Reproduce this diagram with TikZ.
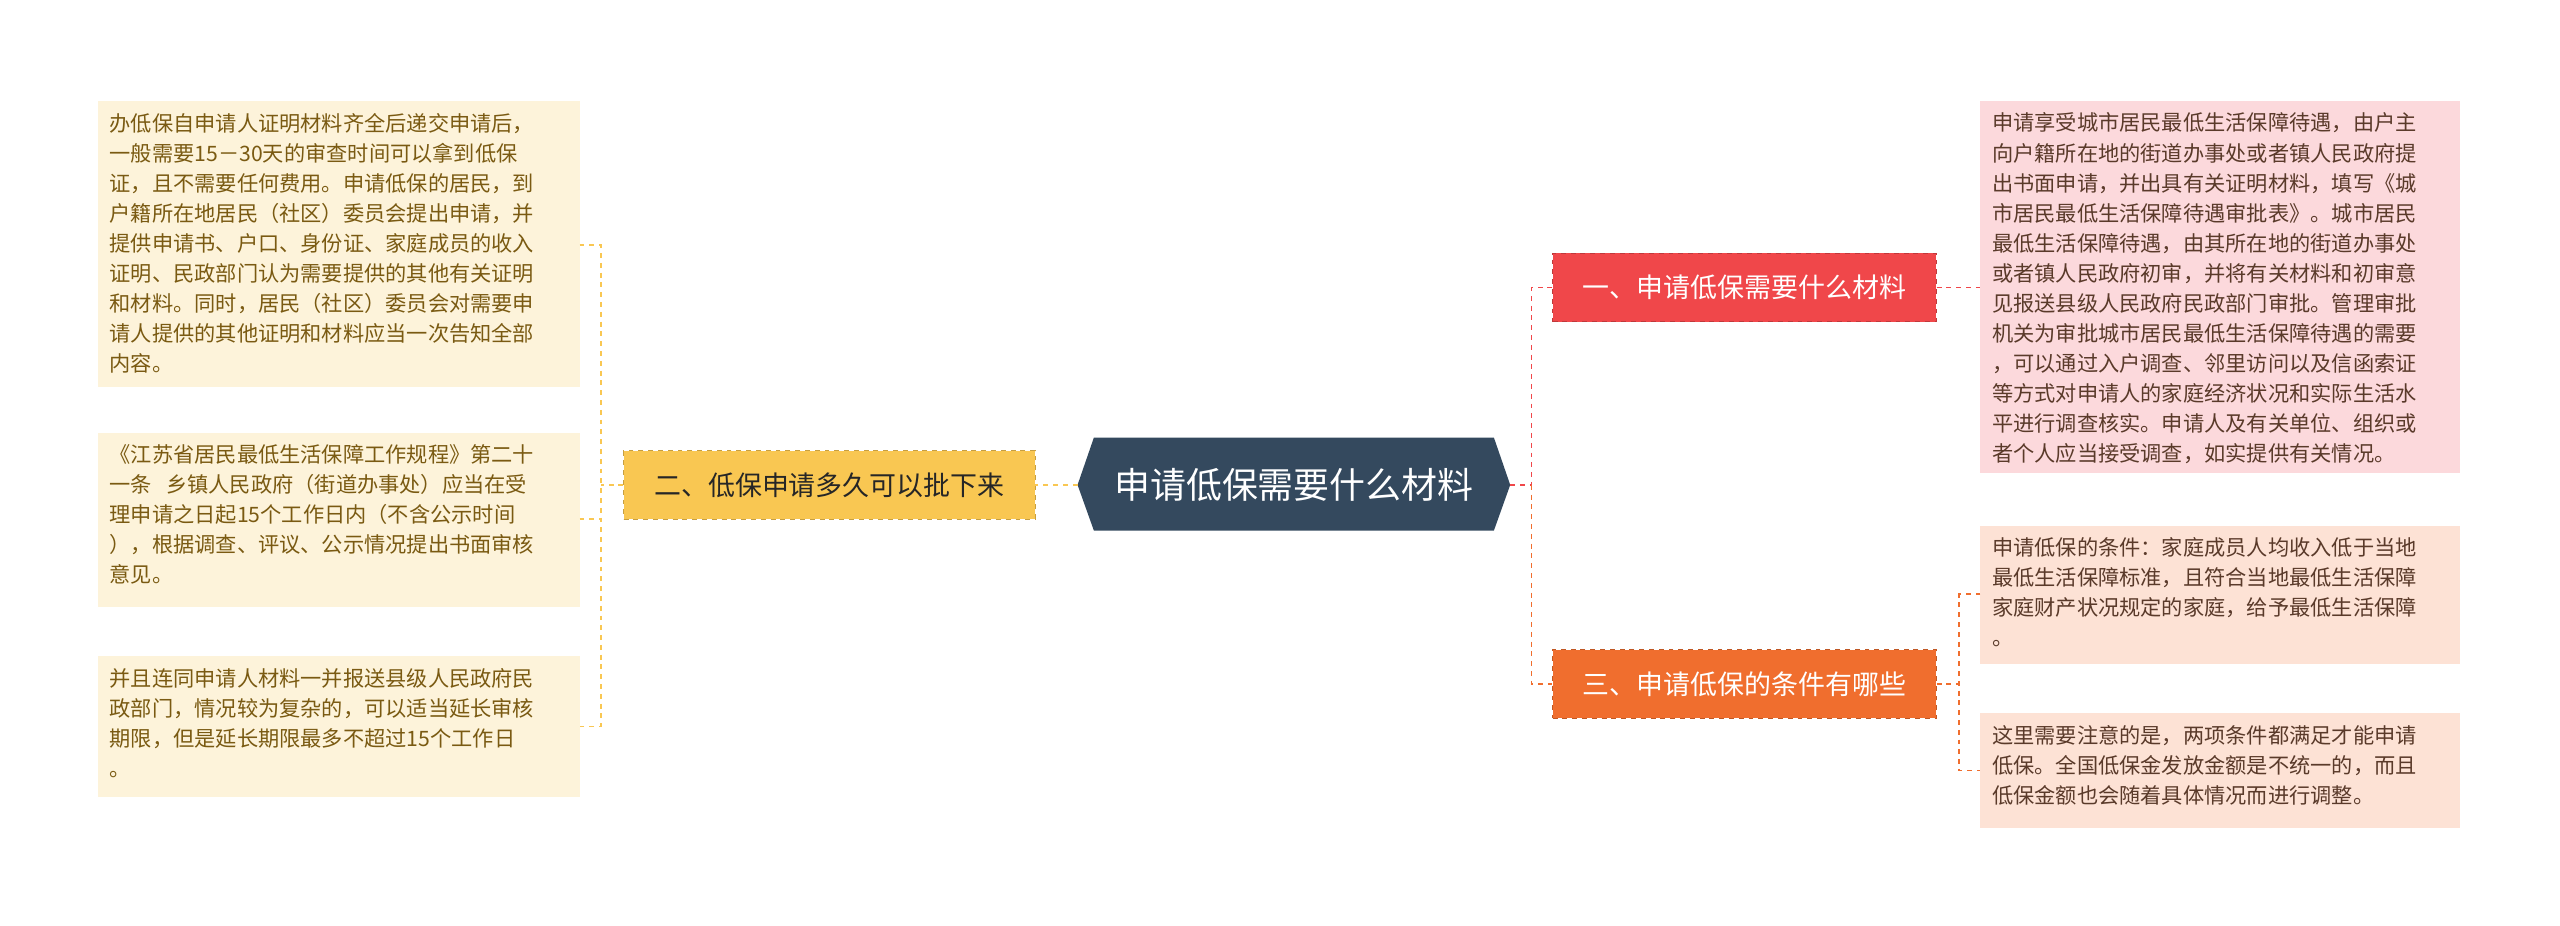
\documentclass[tikz,border=0pt]{standalone}
\usepackage{fontspec}
\setmainfont{Noto Sans CJK SC}
\definecolor{ctr}{HTML}{34495E}
\definecolor{ylw}{HTML}{F9C752}
\definecolor{ylwl}{HTML}{FDF3DA}
\definecolor{ylwt}{HTML}{7A5A12}
\definecolor{redb}{HTML}{F0474A}
\definecolor{redl}{HTML}{FCD9DC}
\definecolor{orgb}{HTML}{F06E2E}
\definecolor{orgl}{HTML}{FDE2D5}
\definecolor{leaft}{HTML}{5A3A2A}
\begin{document}
\begin{tikzpicture}[x=1pt,y=-1pt,
  leaf/.style={anchor=north west,inner sep=0pt,text width=285pt,align=left,font=\fontsize{13}{18.4}\selectfont},
  br/.style={inner sep=0pt,minimum height=42pt,font=\fontsize{16.5}{20}\selectfont},
  con/.style={dashed,line width=1pt}]
\useasboundingbox (0,0) rectangle (1568,567);
% center
\fill[ctr] (660,297) -- (670,268) -- (915,268) -- (925,297) -- (915,325) -- (670,325) -- cycle;
\node[text=white,font=\fontsize{22}{24}\selectfont] (c) at (792.5,297) {申请低保需要什么材料};
\coordinate (cl) at (660,297);
\coordinate (cr) at (925,297);
% left branch
\node[br,fill=ylw,draw=ylw!80!black,dashed,minimum width=252pt,text=black!85] (b2) at (508,297) {二、低保申请多久可以批下来};
\draw[con,ylw] (cl) -- (b2.east);
% left leaves
\fill[ylwl] (60,62) rectangle (355,237);
\node[leaf,text=ylwt] (l1) at (67,69) {办低保自申请人证明材料齐全后递交申请后，\\一般需要15－30天的审查时间可以拿到低保\\证，且不需要任何费用。申请低保的居民，到\\户籍所在地居民（社区）委员会提出申请，并\\提供申请书、户口、身份证、家庭成员的收入\\证明、民政部门认为需要提供的其他有关证明\\和材料。同时，居民（社区）委员会对需要申\\请人提供的其他证明和材料应当一次告知全部\\内容。};
\fill[ylwl] (60,265) rectangle (355,372);
\node[leaf,text=ylwt] (l2) at (67,272) {《江苏省居民最低生活保障工作规程》第二十\\一条\ \ 乡镇人民政府（街道办事处）应当在受\\理申请之日起15个工作日内（不含公示时间\\），根据调查、评议、公示情况提出书面审核\\意见。};
\fill[ylwl] (60,402) rectangle (355,488);
\node[leaf,text=ylwt] (l3) at (67,409) {并且连同申请人材料一并报送县级人民政府民\\政部门，情况较为复杂的，可以适当延长审核\\期限，但是延长期限最多不超过15个工作日\\。};
\coordinate (j2) at (368,297);
\draw[con,ylw] (b2.west) -- (j2);
\draw[con,ylw] (355,150) -- (368,150) -- (368,445) -- (355,445);
\draw[con,ylw] (355,318) -- (368,318);
% right branches
\node[br,fill=redb,draw=redb!80!black,dashed,minimum width=235pt,text=white] (b1) at (1068.5,176) {一、申请低保需要什么材料};
\node[br,fill=orgb,draw=orgb!80!black,dashed,minimum width=235pt,text=white] (b3) at (1068.5,419) {三、申请低保的条件有哪些};
\draw[con,redb] (cr) -- (938,297);
\draw[con,redb] (b1.west) -- (938,176) -- (938,297);
\draw[con,orgb] (938,297) -- (938,419) -- (b3.west);
% right leaves
\fill[redl] (1213,62) rectangle (1507,290);
\node[leaf,text=leaft] (r1) at (1220,69) {申请享受城市居民最低生活保障待遇，由户主\\向户籍所在地的街道办事处或者镇人民政府提\\出书面申请，并出具有关证明材料，填写《城\\市居民最低生活保障待遇审批表》。城市居民\\最低生活保障待遇，由其所在地的街道办事处\\或者镇人民政府初审，并将有关材料和初审意\\见报送县级人民政府民政部门审批。管理审批\\机关为审批城市居民最低生活保障待遇的需要\\，可以通过入户调查、邻里访问以及信函索证\\等方式对申请人的家庭经济状况和实际生活水\\平进行调查核实。申请人及有关单位、组织或\\者个人应当接受调查，如实提供有关情况。};
\draw[con,redb] (b1.east) -- (1213,176);
\fill[orgl] (1213,322) rectangle (1507,407);
\node[leaf,text=leaft] (r2) at (1220,329) {申请低保的条件：家庭成员人均收入低于当地\\最低生活保障标准，且符合当地最低生活保障\\家庭财产状况规定的家庭，给予最低生活保障\\。};
\fill[orgl] (1213,437) rectangle (1507,507);
\node[leaf,text=leaft] (r3) at (1220,444) {这里需要注意的是，两项条件都满足才能申请\\低保。全国低保金发放金额是不统一的，而且\\低保金额也会随着具体情况而进行调整。};
\draw[con,orgb] (b3.east) -- (1200,419);
\draw[con,orgb] (1213,364) -- (1200,364) -- (1200,472) -- (1213,472);
\end{tikzpicture}
\end{document}
